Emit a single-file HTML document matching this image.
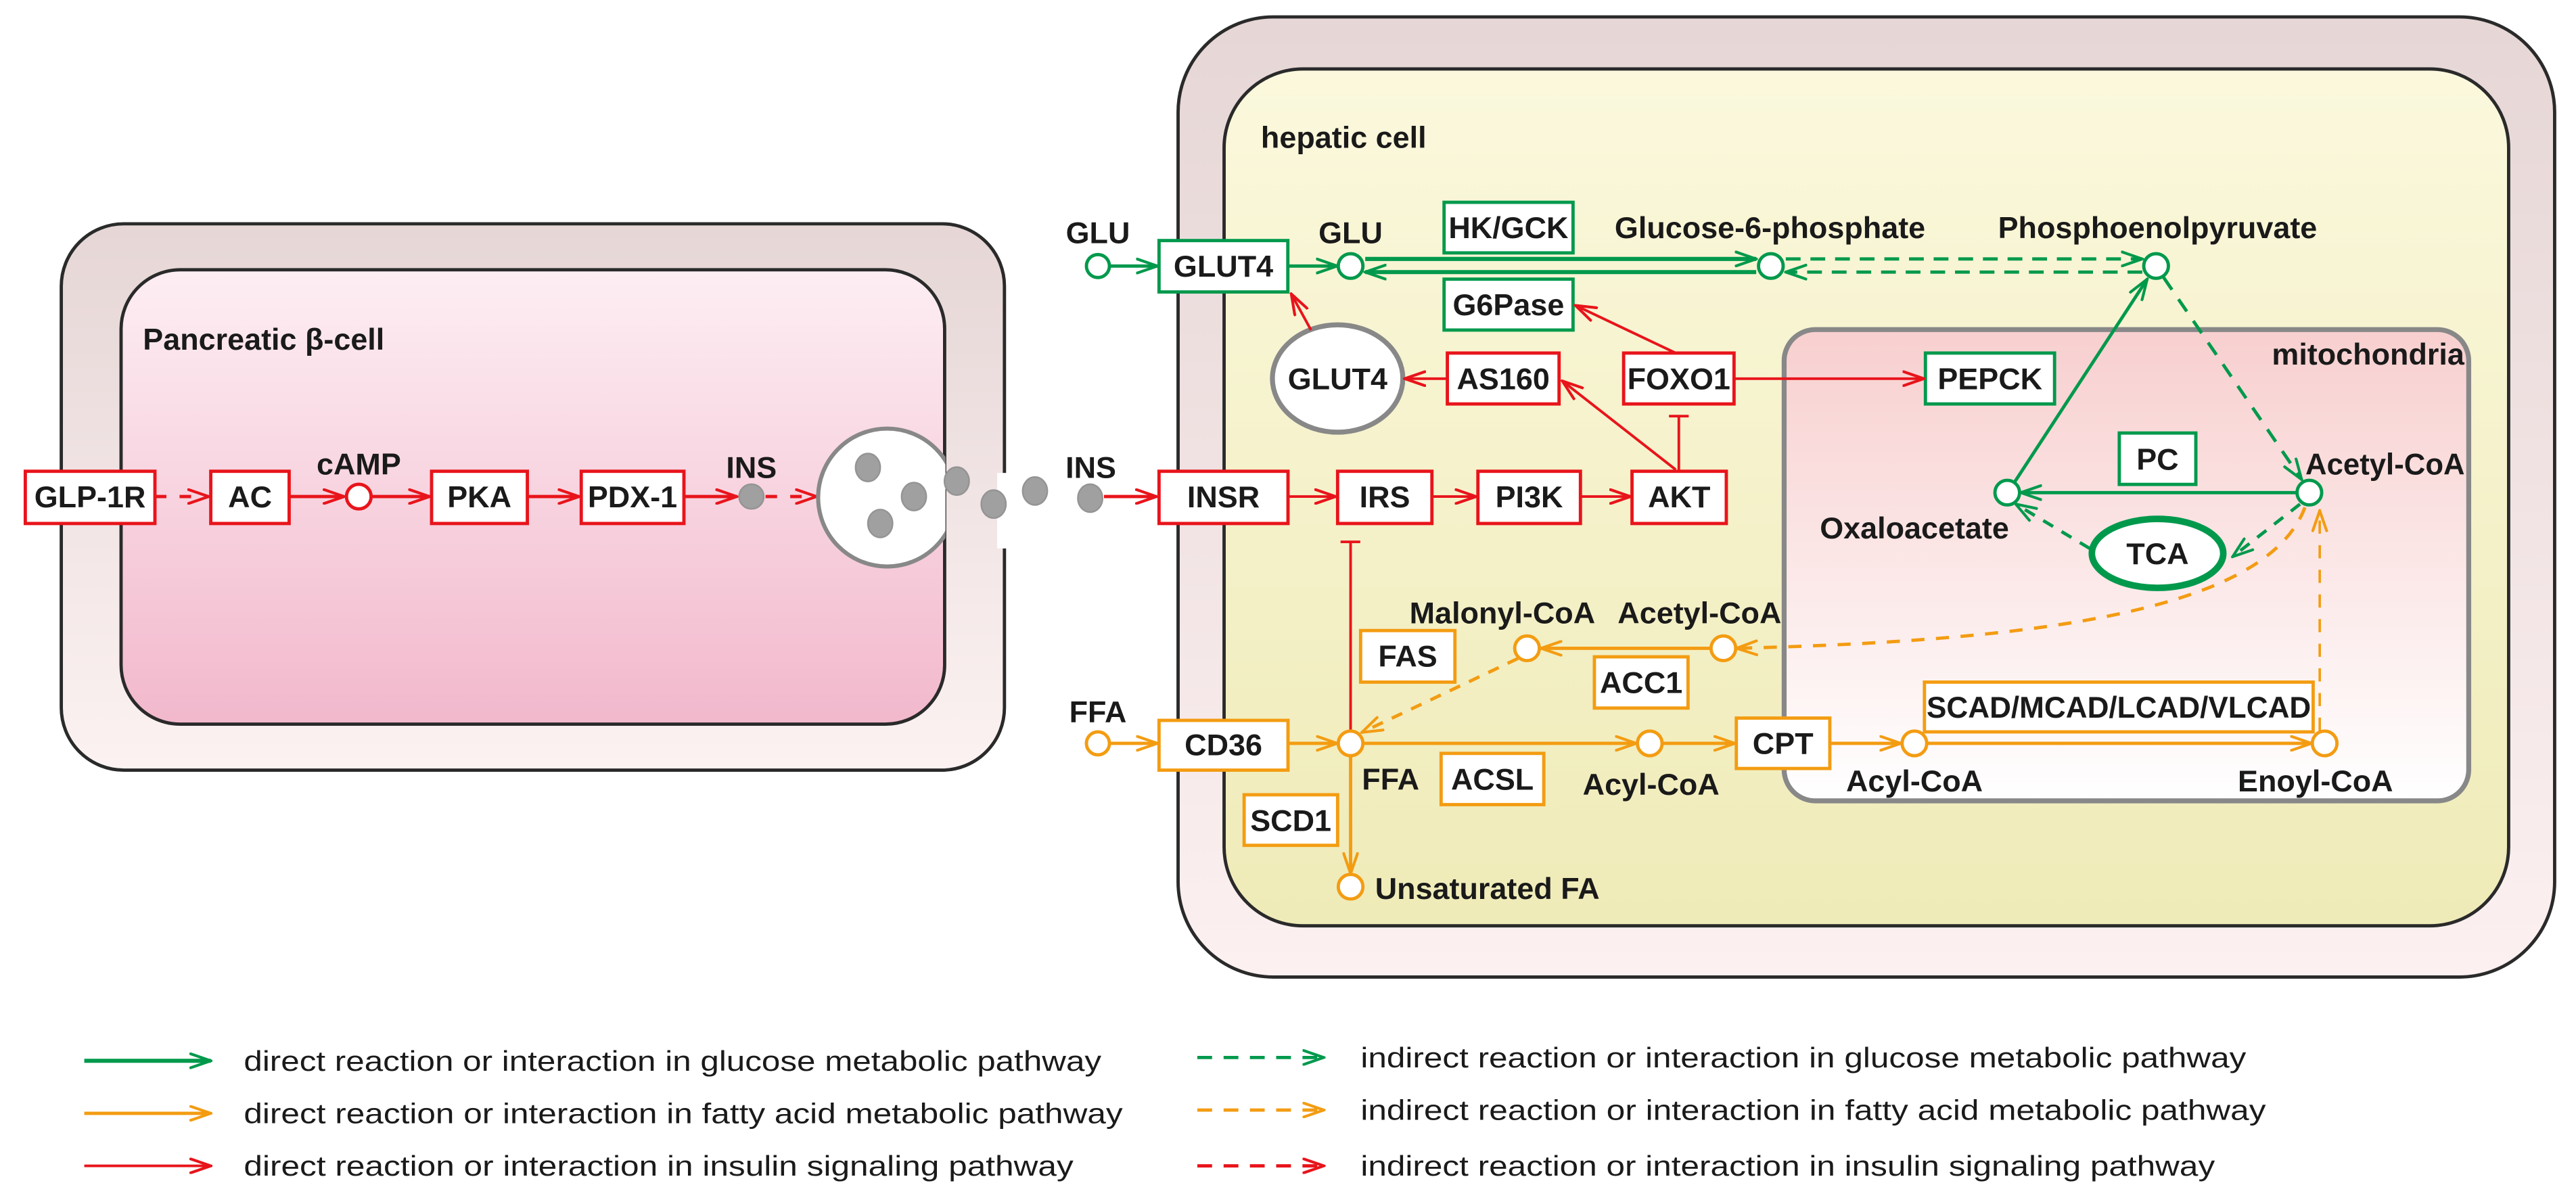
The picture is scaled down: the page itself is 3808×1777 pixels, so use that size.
<!DOCTYPE html>
<html><head><meta charset="utf-8"><style>
html,body{margin:0;padding:0;background:#fff}
svg{display:block}
text{font-family:"Liberation Sans",Arial,sans-serif;font-weight:bold;fill:#1a1a1a}
</style></head><body>
<svg width="3808" height="1777" viewBox="0 0 1568 732" preserveAspectRatio="none" xmlns="http://www.w3.org/2000/svg">
<defs>
<linearGradient id="lo" x1="0" y1="0" x2="0" y2="1"><stop offset="0" stop-color="#e6d6d6"/><stop offset="1" stop-color="#fcf2f2"/></linearGradient>
<linearGradient id="li" x1="0" y1="0" x2="0" y2="1"><stop offset="0" stop-color="#fdeef3"/><stop offset="1" stop-color="#f2b8cc"/></linearGradient>
<linearGradient id="ro" x1="0" y1="0" x2="0" y2="1"><stop offset="0" stop-color="#e6d6d6"/><stop offset="1" stop-color="#fcf0f0"/></linearGradient>
<linearGradient id="ri" x1="0" y1="0" x2="0" y2="1"><stop offset="0" stop-color="#fbf8dd"/><stop offset="1" stop-color="#efebb8"/></linearGradient>
<linearGradient id="mi" x1="0" y1="0" x2="0" y2="1"><stop offset="0" stop-color="#f8cfcf"/><stop offset="1" stop-color="#ffffff"/></linearGradient>
<clipPath id="vc"><rect x="0" y="0" width="575.5" height="732"/></clipPath>
<marker id="ag" viewBox="0 0 14 10" refX="13" refY="5" markerWidth="14" markerHeight="10" markerUnits="userSpaceOnUse" orient="auto"><path d="M0,0.5 L13,5 L0,9.5" fill="none" stroke="#00994c" stroke-width="1.7"/></marker>
<marker id="ao" viewBox="0 0 14 10" refX="13" refY="5" markerWidth="14" markerHeight="10" markerUnits="userSpaceOnUse" orient="auto"><path d="M0,0.5 L13,5 L0,9.5" fill="none" stroke="#f39c12" stroke-width="1.7"/></marker>
<marker id="ar" viewBox="0 0 14 10" refX="13" refY="5" markerWidth="14" markerHeight="10" markerUnits="userSpaceOnUse" orient="auto"><path d="M0,0.5 L13,5 L0,9.5" fill="none" stroke="#e8141b" stroke-width="1.7"/></marker>
</defs>

<!-- left cell -->
<rect x="37.3" y="136.3" width="574.1" height="332.7" rx="38" fill="url(#lo)" stroke="#2a2a2a" stroke-width="2"/>
<rect x="73.7" y="164.3" width="501.3" height="276.7" rx="36" fill="url(#li)" stroke="#2a2a2a" stroke-width="2"/>
<rect x="607" y="288" width="9" height="46" fill="#fff"/>
<text x="87" y="213" font-size="18.5">Pancreatic β-cell</text>

<!-- right cell -->
<rect x="717.1" y="10.3" width="837.9" height="584.7" rx="58" fill="url(#ro)" stroke="#2a2a2a" stroke-width="2"/>
<rect x="745.1" y="42" width="781.9" height="521.8" rx="48" fill="url(#ri)" stroke="#2a2a2a" stroke-width="2"/>
<text x="767.5" y="90" font-size="18.5">hepatic cell</text>
<rect x="1086" y="200.7" width="416.7" height="287" rx="19" fill="url(#mi)" stroke="#888" stroke-width="3"/>
<text x="1500" y="222" font-size="18.5" text-anchor="end">mitochondria</text>

<!-- pancreatic row -->
<g stroke="#e8141b" stroke-width="2" fill="#fff">
<rect x="15.4" y="287" width="78.9" height="31.8"/>
<rect x="128.3" y="287" width="47.7" height="31.8"/>
<rect x="262.7" y="287" width="58.3" height="31.8"/>
<rect x="353.8" y="287" width="62.5" height="31.8"/>
</g>
<g font-size="18.5" text-anchor="middle">
<text x="54.8" y="309">GLP-1R</text><text x="152.2" y="309">AC</text><text x="291.8" y="309">PKA</text><text x="385" y="309">PDX-1</text>
<text x="218.4" y="289">cAMP</text><text x="457.4" y="291">INS</text><text x="664" y="291">INS</text>
</g>
<g stroke="#e8141b" stroke-width="2" fill="none">
<line x1="94.3" y1="302.4" x2="127" y2="302.4" stroke-dasharray="7,8" marker-end="url(#ar)"/>
<line x1="176" y1="302.4" x2="209.5" y2="302.4" marker-end="url(#ar)"/>
<circle cx="218.4" cy="302.4" r="7.5" fill="#fff"/>
<line x1="226" y1="302.4" x2="261.5" y2="302.4" marker-end="url(#ar)"/>
<line x1="321" y1="302.4" x2="352.5" y2="302.4" marker-end="url(#ar)"/>
<line x1="416.3" y1="302.4" x2="448.5" y2="302.4" marker-end="url(#ar)"/>
<line x1="466" y1="302.4" x2="497" y2="302.4" stroke-dasharray="7,8" marker-end="url(#ar)"/>
<line x1="672" y1="302.4" x2="704" y2="302.4" marker-end="url(#ar)"/>
</g>
<circle cx="540" cy="303" r="42" fill="#fff" stroke="#888" stroke-width="2.5" clip-path="url(#vc)"/>
<g fill="#a0a0a0" stroke="#949494" stroke-width="1">
<circle cx="457.4" cy="302.4" r="7.5"/>
<ellipse cx="528.3" cy="284.7" rx="7.5" ry="8.5"/><ellipse cx="556.3" cy="302.4" rx="7.5" ry="8.5"/><ellipse cx="535.8" cy="318.8" rx="7.5" ry="8.5"/>
<ellipse cx="582.4" cy="293" rx="7.5" ry="8.5"/><ellipse cx="604.8" cy="307" rx="7.5" ry="8.5"/><ellipse cx="630" cy="299" rx="7.5" ry="8.5"/>
<ellipse cx="663.6" cy="303.4" rx="7.5" ry="8.5"/>
</g>

<!-- green boxes -->
<g stroke="#00994c" stroke-width="2" fill="#fff">
<rect x="705.5" y="146.5" width="78.4" height="31.3"/>
<rect x="879" y="123.2" width="78.5" height="30.8"/>
<rect x="879" y="170" width="78.5" height="31"/>
<rect x="1172" y="215" width="78.6" height="31"/>
<rect x="1290" y="263.7" width="46.6" height="31.3"/>
</g>
<ellipse cx="1313.3" cy="337" rx="40" ry="21" fill="#fff" stroke="#00994c" stroke-width="4"/>
<g font-size="18.5" text-anchor="middle">
<text x="744.7" y="168.5">GLUT4</text><text x="918.2" y="145">HK/GCK</text><text x="918.2" y="192">G6Pase</text>
<text x="1211.3" y="237">PEPCK</text><text x="1313.3" y="286">PC</text><text x="1313.3" y="343.5">TCA</text>
<text x="668.3" y="148">GLU</text><text x="822.1" y="148">GLU</text>
<text x="1077.4" y="145">Glucose-6-phosphate</text><text x="1313.3" y="145">Phosphoenolpyruvate</text>
<text x="1403.3" y="289" text-anchor="start" textLength="97" lengthAdjust="spacingAndGlyphs">Acetyl-CoA</text><text x="1165.3" y="328">Oxaloacetate</text>
</g>
<g stroke="#00994c" stroke-width="2" fill="none">
<circle cx="668.3" cy="162" r="7"/>
<line x1="675.3" y1="162" x2="704.5" y2="162" marker-end="url(#ag)"/>
<line x1="783.9" y1="162" x2="814" y2="162" marker-end="url(#ag)"/>
<circle cx="822.1" cy="162" r="7.5" fill="#fff"/>
<line x1="831" y1="157.7" x2="1069" y2="157.7" stroke-width="2.5" marker-end="url(#ag)"/>
<line x1="1069" y1="165.7" x2="831" y2="165.7" stroke-width="2.5" marker-end="url(#ag)"/>
<circle cx="1077.9" cy="162" r="7.5" fill="#fff"/>
<line x1="1087" y1="157.7" x2="1304" y2="157.7" stroke-dasharray="9,6" marker-end="url(#ag)"/>
<line x1="1304" y1="165.7" x2="1087" y2="165.7" stroke-dasharray="9,6" marker-end="url(#ag)"/>
<circle cx="1312.4" cy="162" r="7.5" fill="#fff"/>
<line x1="1226" y1="294" x2="1307" y2="170" marker-end="url(#ag)"/>
<line x1="1317" y1="169" x2="1401" y2="292" stroke-dasharray="9,7" marker-end="url(#ag)"/>
<line x1="1398" y1="300" x2="1230" y2="300" marker-end="url(#ag)"/>
<circle cx="1221.8" cy="300" r="7.5" fill="#fff"/>
<circle cx="1405.7" cy="300" r="7.5" fill="#fff"/>
<line x1="1400" y1="307" x2="1359" y2="339" stroke-dasharray="7,6" marker-end="url(#ag)"/>
<line x1="1272" y1="334" x2="1227" y2="307" stroke-dasharray="7,6" marker-end="url(#ag)"/>
</g>

<!-- insulin signalling in hepatic -->
<g stroke="#e8141b" stroke-width="2" fill="#fff">
<rect x="705.5" y="287" width="78.5" height="31.8"/>
<rect x="814.2" y="287" width="57.4" height="31.8"/>
<rect x="899.6" y="287" width="62.4" height="31.8"/>
<rect x="993.4" y="287" width="57.4" height="31.8"/>
<rect x="881" y="215" width="68" height="31"/>
<rect x="988.3" y="215" width="67.2" height="31"/>
</g>
<ellipse cx="814.2" cy="230.5" rx="39.7" ry="32.7" fill="#fff" stroke="#888" stroke-width="3"/>
<g font-size="18.5" text-anchor="middle">
<text x="744.7" y="309">INSR</text><text x="842.9" y="309">IRS</text><text x="930.8" y="309">PI3K</text><text x="1022.1" y="309">AKT</text>
<text x="915" y="237">AS160</text><text x="1021.9" y="237">FOXO1</text><text x="814.2" y="237">GLUT4</text>
</g>
<g stroke="#e8141b" stroke-width="1.6" fill="none">
<line x1="784" y1="302.4" x2="813" y2="302.4" marker-end="url(#ar)"/>
<line x1="871.6" y1="302.4" x2="898.5" y2="302.4" marker-end="url(#ar)"/>
<line x1="962" y1="302.4" x2="992.5" y2="302.4" marker-end="url(#ar)"/>
<line x1="1021.9" y1="287" x2="1021.9" y2="253.4"/><line x1="1015.9" y1="253.4" x2="1027.9" y2="253.4"/>
<line x1="1020" y1="286" x2="951" y2="232" marker-end="url(#ar)"/>
<line x1="1020" y1="215" x2="959" y2="186" marker-end="url(#ar)"/>
<line x1="1055.5" y1="230.6" x2="1171" y2="230.6" marker-end="url(#ar)"/>
<line x1="881" y1="230.6" x2="855" y2="230.6" marker-end="url(#ar)"/>
<line x1="798" y1="201" x2="786" y2="179" marker-end="url(#ar)"/>
<line x1="822.1" y1="446" x2="822.1" y2="330"/><line x1="816" y1="330" x2="828" y2="330"/>
</g>

<!-- fatty acid -->
<g stroke="#f39c12" stroke-width="2" fill="#fff">
<rect x="705.5" y="438.7" width="78.5" height="30.3"/>
<rect x="877.2" y="458.8" width="62.5" height="31.2"/>
<rect x="1056.9" y="437.3" width="56.9" height="30.7"/>
<rect x="1171.4" y="415.4" width="236.6" height="30.3"/>
<rect x="757.3" y="484" width="56.9" height="30.8"/>
<rect x="828.2" y="384" width="57.4" height="31.4"/>
<rect x="970.5" y="400" width="57" height="31.2"/>
</g>
<g font-size="18.5" text-anchor="middle">
<text x="744.7" y="460">CD36</text><text x="908.4" y="481">ACSL</text><text x="1085.3" y="459">CPT</text>
<text x="1289.7" y="437" textLength="234" lengthAdjust="spacingAndGlyphs">SCAD/MCAD/LCAD/VLCAD</text><text x="785.7" y="506">SCD1</text>
<text x="856.9" y="406">FAS</text><text x="999" y="422">ACC1</text>
<text x="668.3" y="440">FFA</text><text x="829" y="481" text-anchor="start">FFA</text>
<text x="1005" y="484">Acyl-CoA</text><text x="1165.3" y="482">Acyl-CoA</text><text x="1409.4" y="482">Enoyl-CoA</text>
<text x="914.5" y="379.5">Malonyl-CoA</text><text x="1034.5" y="379.5">Acetyl-CoA</text>
<text x="837" y="547.5" text-anchor="start">Unsaturated FA</text>
</g>
<g stroke="#f39c12" stroke-width="2" fill="none">
<circle cx="668.3" cy="452.7" r="7"/>
<line x1="675.3" y1="452.7" x2="704.5" y2="452.7" marker-end="url(#ao)"/>
<line x1="784" y1="452.7" x2="814" y2="452.7" marker-end="url(#ao)"/>
<line x1="830" y1="452.7" x2="996" y2="452.7" marker-end="url(#ao)"/>
<line x1="1012" y1="452.7" x2="1056" y2="452.7" marker-end="url(#ao)"/>
<line x1="1113.8" y1="452.7" x2="1157" y2="452.7" marker-end="url(#ao)"/>
<line x1="1173" y1="452.7" x2="1407" y2="452.7" marker-end="url(#ao)"/>
<line x1="822.1" y1="460.5" x2="822.1" y2="532" marker-end="url(#ao)"/>
<line x1="1041" y1="394.8" x2="938" y2="394.8" marker-end="url(#ao)"/>
<line x1="924" y1="401" x2="829" y2="446" stroke-dasharray="7,6" marker-end="url(#ao)"/>
<path d="M1403,309 C1380,370 1250,390 1057,394.8" stroke-dasharray="8,7" marker-end="url(#ao)"/>
<line x1="1412" y1="445" x2="1412" y2="311" stroke-width="1.5" stroke-dasharray="8,7" marker-end="url(#ao)"/>
<circle cx="822.1" cy="452.7" r="7.5" fill="#fff"/>
<circle cx="1004.2" cy="452.7" r="7.5" fill="#fff"/>
<circle cx="1165.3" cy="452.7" r="7.5" fill="#fff"/>
<circle cx="1415" cy="452.7" r="7.5" fill="#fff"/>
<circle cx="822.1" cy="540" r="7.5" fill="#fff"/>
<circle cx="929.5" cy="394.8" r="7.5" fill="#fff"/>
<circle cx="1049" cy="394.8" r="7.5" fill="#fff"/>
</g>

<!-- legend -->
<g fill="none">
<line x1="51.3" y1="646" x2="128.3" y2="646" stroke="#00994c" stroke-width="2.5" marker-end="url(#ag)"/>
<line x1="51.3" y1="678" x2="128.3" y2="678" stroke="#f39c12" stroke-width="2" marker-end="url(#ao)"/>
<line x1="51.3" y1="710" x2="128.3" y2="710" stroke="#e8141b" stroke-width="1.6" marker-end="url(#ar)"/>
<line x1="728.8" y1="644" x2="805.8" y2="644" stroke="#00994c" stroke-width="2" stroke-dasharray="9,7" marker-end="url(#ag)"/>
<line x1="728.8" y1="676" x2="805.8" y2="676" stroke="#f39c12" stroke-width="2" stroke-dasharray="9,7" marker-end="url(#ao)"/>
<line x1="728.8" y1="710" x2="805.8" y2="710" stroke="#e8141b" stroke-width="2" stroke-dasharray="9,7" marker-end="url(#ar)"/>
</g>
<g font-size="17">
<text x="148.4" y="652" style="font-weight:normal" textLength="522" lengthAdjust="spacingAndGlyphs">direct reaction or interaction in glucose metabolic pathway</text>
<text x="148.4" y="684" style="font-weight:normal" textLength="535" lengthAdjust="spacingAndGlyphs">direct reaction or interaction in fatty acid metabolic pathway</text>
<text x="148.4" y="716" style="font-weight:normal" textLength="505" lengthAdjust="spacingAndGlyphs">direct reaction or interaction in insulin signaling pathway</text>
<text x="828.2" y="650" style="font-weight:normal" textLength="539" lengthAdjust="spacingAndGlyphs">indirect reaction or interaction in glucose metabolic pathway</text>
<text x="828.2" y="682" style="font-weight:normal" textLength="551" lengthAdjust="spacingAndGlyphs">indirect reaction or interaction in fatty acid metabolic pathway</text>
<text x="828.2" y="716" style="font-weight:normal" textLength="520" lengthAdjust="spacingAndGlyphs">indirect reaction or interaction in insulin signaling pathway</text>
</g>
</svg>
</body></html>
